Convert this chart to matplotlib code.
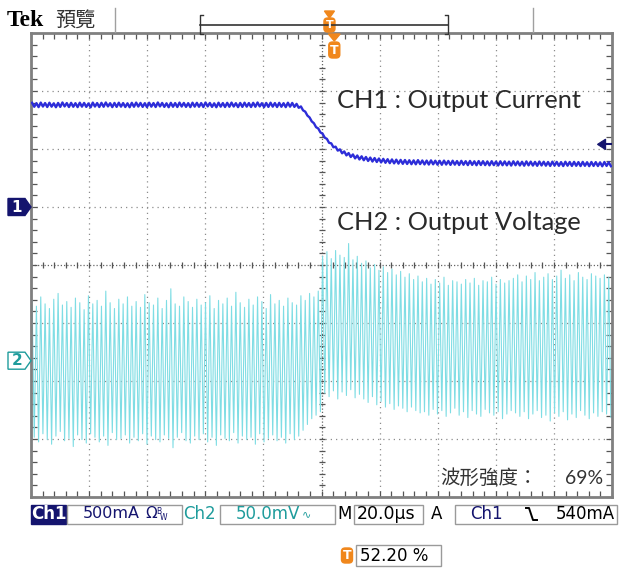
import numpy as np
import matplotlib
matplotlib.use("Agg")
import matplotlib.pyplot as plt
from matplotlib.patches import Rectangle, Polygon, FancyBboxPatch
from matplotlib.lines import Line2D
from matplotlib.ticker import MultipleLocator
from matplotlib.transforms import blended_transform_factory

# scope settings
ch1_scale_mA = 500
ch2_scale_mV = 50.0
time_per_div_us = 20.0
ch1_pos_div = 1.0
ch2_pos_div = -1.65
trig_level_mA = 540
trig_pos_pct = 52.20
ch1_ripple_mA = 34

# CH1 output current, one value per ripple cycle (mA)
ch1_level = [
    881, 878, 883, 879, 882, 877, 880, 884, 879, 881, 878, 882, 880, 876, 883, 879, 881, 884, 878, 880,
    882, 879, 877, 881, 883, 880, 878, 882, 879, 884, 880, 877, 881, 879, 883, 880, 878, 882, 881, 879,
    884, 880, 877, 882, 879, 881, 883, 878, 880, 882, 879, 881, 884, 878, 880, 882, 879, 881, 878, 882,
    880,
    872, 850, 805, 755, 705, 660, 615, 570, 532, 503, 480, 462, 448, 436, 427, 420, 414, 409, 405, 401,
    398, 395, 393, 391, 389,
    388, 386, 385, 387, 384, 383, 385, 382, 381, 383, 380, 382, 379, 381, 378, 380, 377, 379, 378, 376,
    378, 375, 377, 376, 374, 377, 375, 373, 376, 374, 372, 375, 373, 371, 374, 372, 370, 373, 371, 372,
    370, 372, 369, 371, 370, 368, 371, 369,
]

# CH2 output voltage ripple, peak and valley of each cycle (mV)
ch2_high = [
    52, 47, 55, 49, 45, 53, 58, 48, 51, 46, 54, 50, 44, 56, 49, 52, 47, 60, 50, 45,
    53, 49, 55, 47, 51, 46, 57, 50, 48, 54, 45, 52, 62, 49, 47, 55, 51, 46, 53, 48,
    50, 56, 45, 52, 49, 54, 47, 59, 50, 46, 53, 48, 55, 51, 45, 57, 49, 52, 47, 54,
    50, 48, 56, 52, 58, 55, 60,
    90, 94, 88, 95,
    91, 89, 101, 87, 90,
    84, 86, 80, 83, 78, 81, 76, 79, 74, 77, 72, 75, 70, 73,
    68, 71, 66, 70, 67, 72, 65, 69, 68, 66, 70, 67, 71, 65, 69, 68, 72, 66, 70, 67, 69,
    71, 74, 68, 73, 70, 76, 69, 72, 75, 70, 73, 78, 71, 74, 69, 76, 72, 70, 75, 73, 71, 74, 72,
]
ch2_low = [
    -66, -70, -63, -68, -72, -65, -61, -69, -67, -74, -64, -68, -71, -63, -66, -70, -65, -73, -62, -68,
    -67, -64, -71, -66, -69, -63, -72, -65, -68, -70, -64, -67, -75, -66, -62, -69, -71, -65, -68, -63,
    -70, -66, -73, -64, -67, -69, -62, -71, -65, -68, -66, -72, -63, -70, -67, -64, -69, -66, -71, -63,
    -68, -65, -60, -55, -50, -47, -44,
    -28, -31, -26, -33,
    -27, -30, -25, -32, -29,
    -33, -36, -31, -38, -35, -40, -37, -42, -39, -41, -44, -40, -43, -45,
    -44, -47, -42, -46, -43, -48, -45, -41, -47, -44, -49, -43, -46, -48, -42, -45, -47, -44, -50, -46, -43,
    -45, -48, -44, -50, -46, -43, -49, -47, -52, -45, -48, -44, -51, -46, -49, -43, -47, -50, -45, -48, -44, -46, -49,
]

W, H = 624, 569
NAVY = "#14146e"
CH1_COL = "#2d2dd8"
CH2_COL = "#7fdde4"
TEAL = "#1f9c9c"
ORANGE = "#f0871c"


def fx(x):
    return x / W


def fy(y):
    return 1 - y / H


fig = plt.figure(figsize=(W / 100, H / 100), dpi=100)
fig.patch.set_facecolor("white")
ax = fig.add_axes([fx(31), fy(497), 581 / W, 464 / H])
span_us = 10 * time_per_div_us
ax.set_xlim(0, span_us)
ax.set_ylim(-4, 4)

# graticule
for gx in np.arange(time_per_div_us, span_us, time_per_div_us):
    if abs(gx - span_us / 2) > 1e-6:
        ax.axvline(gx, color="#8c8c8c", lw=0.9, ls=(0, (1, 3.2)), zorder=1)
for gy in range(-3, 4):
    if gy != 0:
        ax.axhline(gy, color="#8c8c8c", lw=0.9, ls=(0, (1, 3.2)), zorder=1)
ax.axvline(span_us / 2, color="#666666", lw=0.9, ls=(0, (1, 1.6)), zorder=1)
ax.axhline(0, color="#666666", lw=0.9, ls=(0, (1, 1.6)), zorder=1)
xt = np.arange(0, span_us + 0.01, time_per_div_us / 5)
ax.plot(xt, np.zeros_like(xt), ls="", marker="|", ms=5, mew=0.9, color="#555555", zorder=1)
yt = np.arange(-4, 4.01, 0.2)
ax.plot(np.full_like(yt, span_us / 2), yt, ls="", marker="_", ms=5, mew=0.9, color="#555555", zorder=1)

ax.xaxis.set_major_locator(MultipleLocator(time_per_div_us))
ax.xaxis.set_minor_locator(MultipleLocator(time_per_div_us / 5))
ax.yaxis.set_major_locator(MultipleLocator(1))
ax.yaxis.set_minor_locator(MultipleLocator(0.2))
ax.tick_params(which="both", direction="in", top=True, right=True, length=4, width=0.9,
               color="#555555", labelbottom=False, labelleft=False)
for s in ax.spines.values():
    s.set_color("#808080")
    s.set_linewidth(2)

# CH2 trace
n2 = len(ch2_high)
dt2 = span_us / n2
t2 = np.empty(2 * n2)
t2[0::2] = np.arange(n2) * dt2 + dt2 * 0.25
t2[1::2] = np.arange(n2) * dt2 + dt2 * 0.75
v2 = np.empty(2 * n2)
v2[0::2] = ch2_high
v2[1::2] = ch2_low
ax.plot(t2, v2 / ch2_scale_mV + ch2_pos_div, color=CH2_COL, lw=0.8, zorder=2)

# CH1 trace
lvl = np.array(ch1_level, dtype=float)
n1 = len(lvl)
dt1 = span_us / n1
t1 = np.empty(2 * n1)
t1[0::2] = np.arange(n1) * dt1 + dt1 * 0.25
t1[1::2] = np.arange(n1) * dt1 + dt1 * 0.75
v1 = np.empty(2 * n1)
v1[0::2] = lvl + ch1_ripple_mA / 2
v1[1::2] = lvl - ch1_ripple_mA / 2
ax.plot(t1, v1 / ch1_scale_mA + ch1_pos_div, color=CH1_COL, lw=1.7, zorder=3)

# annotations inside the screen
fig.text(fx(337), fy(100), "CH1 : Output Current", fontsize=18.3, family="Lato",
         color="#2a2a2a", va="center", ha="left")
fig.text(fx(337), fy(222), "CH2 : Output Voltage", fontsize=18.3, family="Lato",
         color="#2a2a2a", va="center", ha="left")
fig.text(fx(440), fy(478), "波形強度：", fontsize=14,
         family=["Noto Sans CJK TC", "DejaVu Sans"], color="#333333", va="center", ha="left")
fig.text(fx(603), fy(478), "69%", fontsize=14, family="Lato",
         color="#333333", va="center", ha="right")

# channel ground markers (left)
bl = blended_transform_factory(fig.transFigure, ax.transData)
hh = 8.5 / 58
for pos, face, edge, txtc, lab in [(ch1_pos_div, NAVY, NAVY, "white", "1"),
                                   (ch2_pos_div, "white", TEAL, TEAL, "2")]:
    pts = [(fx(8), pos + hh), (fx(25), pos + hh), (fx(31), pos), (fx(25), pos - hh), (fx(8), pos - hh)]
    fig.add_artist(Polygon(pts, closed=True, transform=bl, facecolor=face, edgecolor=edge, lw=1))
    fig.text(fx(17), pos, lab, transform=bl, color=txtc, fontsize=11, weight="bold",
             ha="center", va="center")

# trigger level marker (right)
tl = trig_level_mA / ch1_scale_mA + ch1_pos_div
ax.add_patch(Polygon([(195.0, tl), (197.8, tl + 0.09), (197.8, tl - 0.09)], closed=True,
                     facecolor=NAVY, edgecolor=NAVY, lw=0.8, zorder=5, clip_on=False))
ax.plot([197.8, 199.8], [tl, tl], color=NAVY, lw=1.5, zorder=5)

# trigger position marker (top of screen)
tp = trig_pos_pct / 100 * span_us
bt = blended_transform_factory(ax.transData, fig.transFigure)
fig.add_artist(Polygon([(tp - 2.0, fy(34)), (tp + 2.0, fy(34)), (tp, fy(41))], closed=True,
                       transform=bt, facecolor=ORANGE, edgecolor=ORANGE))
x_tp = ax.transData.transform((tp, 0))[0] / fig.dpi / fig.get_figwidth() * W


def t_icon(xc, y0, y1, fs=9):
    fig.add_artist(FancyBboxPatch((fx(xc - 5.5), fy(y1)), 11 / W, (y1 - y0) / H,
                                  boxstyle="round,pad=0,rounding_size=0.006",
                                  transform=fig.transFigure, facecolor=ORANGE, edgecolor=ORANGE))
    fig.text(fx(xc), fy((y0 + y1) / 2), "T", color="white", fontsize=fs, weight="bold",
             ha="center", va="center")


t_icon(x_tp, 42, 58)

# top bar
fig.text(fx(7), fy(20), "Tek", fontsize=17, family="Liberation Serif", weight="bold",
         color="black", va="center", ha="left")
fig.text(fx(55), fy(20), "預覽", fontsize=14.5, family=["Noto Sans CJK TC", "DejaVu Sans"],
         color="#333333", va="center", ha="left")
for sx in (115, 533):
    fig.add_artist(Line2D([fx(sx), fx(sx)], [fy(8), fy(32)], color="#a0a0a0", lw=1))
rec_l, rec_r = 200, 448
fig.add_artist(Line2D([fx(rec_l), fx(rec_r)], [fy(25), fy(25)], color="#333333", lw=1.2))
fig.add_artist(Line2D([fx(rec_l + 3), fx(rec_l), fx(rec_l), fx(rec_l + 3)],
                      [fy(15), fy(15), fy(34), fy(34)], color="#333333", lw=1))
fig.add_artist(Line2D([fx(rec_r - 3), fx(rec_r), fx(rec_r), fx(rec_r - 3)],
                      [fy(15), fy(15), fy(34), fy(34)], color="#333333", lw=1))
rx = rec_l + trig_pos_pct / 100 * (rec_r - rec_l)
fig.add_artist(Polygon([(fx(rx - 5), fy(11)), (fx(rx + 5), fy(11)), (fx(rx), fy(18))],
                       closed=True, transform=fig.transFigure, facecolor=ORANGE, edgecolor=ORANGE))
t_icon(rx, 18, 32, fs=8)

# status bar
SB_Y = 514
FS = 12
fig.add_artist(Rectangle((fx(31), fy(524)), 35 / W, 19 / H, transform=fig.transFigure,
                         facecolor=NAVY, edgecolor=NAVY))
fig.text(fx(48.5), fy(SB_Y), "Ch1", color="white", fontsize=FS, weight="bold", ha="center", va="center")
for x0, x1 in [(67, 182), (220, 335), (354, 423), (455, 617)]:
    fig.add_artist(Rectangle((fx(x0), fy(524)), (x1 - x0) / W, 19 / H, transform=fig.transFigure,
                             facecolor="none", edgecolor="#9a9a9a", lw=1))
fig.text(fx(83), fy(SB_Y), "500mA", color=NAVY, fontsize=11.5, ha="left", va="center")
fig.text(fx(145), fy(SB_Y), "Ω", color=NAVY, fontsize=FS - 1, ha="left", va="center")
fig.text(fx(156), fy(511), "B", color=NAVY, fontsize=5.5, ha="left", va="center")
fig.text(fx(160), fy(517), "W", color=NAVY, fontsize=5.5, ha="left", va="center")
fig.text(fx(183), fy(SB_Y), "Ch2", color=TEAL, fontsize=FS, ha="left", va="center")
fig.text(fx(236), fy(SB_Y), "50.0mV", color=TEAL, fontsize=FS, ha="left", va="center")
fig.text(fx(302), fy(SB_Y), "∿", color=TEAL, fontsize=8, ha="left", va="center")
fig.text(fx(337), fy(SB_Y), "M", color="black", fontsize=FS, ha="left", va="center")
fig.text(fx(357), fy(SB_Y), "20.0µs", color="black", fontsize=FS + 0.5, ha="left", va="center")
fig.text(fx(431), fy(SB_Y), "A", color="black", fontsize=FS, ha="left", va="center")
fig.text(fx(470), fy(SB_Y), "Ch1", color=NAVY, fontsize=FS, ha="left", va="center")
fig.add_artist(Line2D([fx(526), fx(529), fx(533), fx(537)], [fy(508), fy(508), fy(520), fy(520)],
                      color="black", lw=1.4))
fig.text(fx(615), fy(SB_Y), "540mA", color="black", fontsize=FS, ha="right", va="center")

# trigger position readout
t_icon(347, 548, 563)
fig.add_artist(Rectangle((fx(356), fy(566)), 85 / W, 21 / H, transform=fig.transFigure,
                         facecolor="none", edgecolor="#9a9a9a", lw=1))
fig.text(fx(360), fy(556), "52.20 %", color="black", fontsize=FS, ha="left", va="center")

fig.savefig("out.png", dpi=100)
